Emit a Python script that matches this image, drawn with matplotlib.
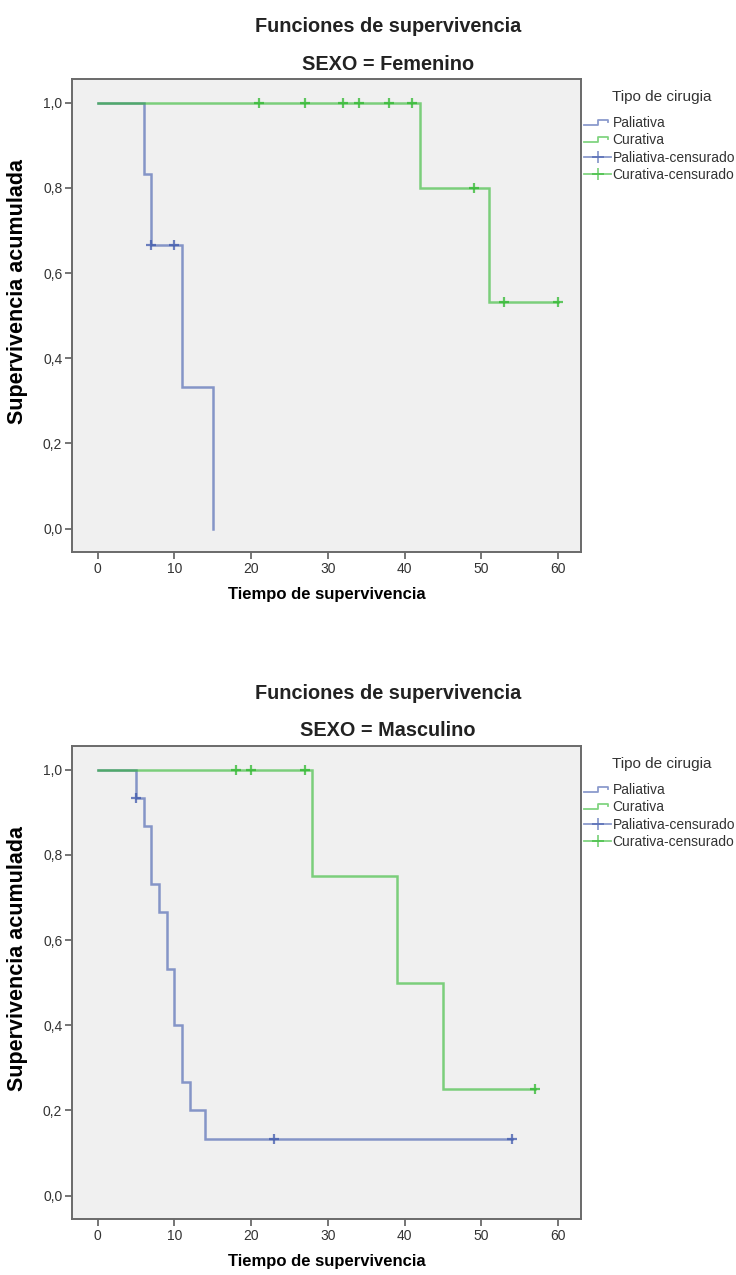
import matplotlib
matplotlib.use("Agg")
import matplotlib.pyplot as plt
from matplotlib.lines import Line2D
from matplotlib.legend_handler import HandlerBase
from matplotlib.ticker import FuncFormatter

plt.rcParams['font.family'] = ['Liberation Sans', 'DejaVu Sans']

# ---------------- data ----------------
sexes = ["Femenino", "Masculino"]
groups = ["Paliativa", "Curativa"]

# Femenino
fem_pal_t = [0, 6, 7, 11, 15]
fem_pal_s = [1.0, 0.833, 0.667, 0.333, 0.0]
fem_pal_cens_t = [7, 10]
fem_pal_cens_s = [0.667, 0.667]

fem_cur_t = [0, 42, 51, 60]
fem_cur_s = [1.0, 0.8, 0.533, 0.533]
fem_cur_cens_t = [21, 27, 32, 34, 38, 41, 49, 53, 60]
fem_cur_cens_s = [1.0, 1.0, 1.0, 1.0, 1.0, 1.0, 0.8, 0.533, 0.533]

# Masculino
mas_pal_t = [0, 5, 6, 7, 8, 9, 10, 11, 12, 14, 54]
mas_pal_s = [1.0, 0.933, 0.867, 0.733, 0.667, 0.533, 0.4, 0.267, 0.2, 0.133, 0.133]
mas_pal_cens_t = [5, 23, 54]
mas_pal_cens_s = [0.933, 0.133, 0.133]

mas_cur_t = [0, 28, 39, 45, 57]
mas_cur_s = [1.0, 0.75, 0.5, 0.25, 0.25]
mas_cur_cens_t = [18, 20, 27, 57]
mas_cur_cens_s = [1.0, 1.0, 1.0, 0.25]

x_ticks = [0, 10, 20, 30, 40, 50, 60]
y_ticks = [0.0, 0.2, 0.4, 0.6, 0.8, 1.0]

legend_title = "Tipo de cirugia"
legend_labels = ["Paliativa", "Curativa", "Paliativa-censurado", "Curativa-censurado"]

# ---------------- style ----------------
BLUE = '#3E58AC'
GREEN = '#2EB82E'
ALPHA = 0.6
SPINE = '#6a6a6a'
BG = '#f0f0f0'

W, H = 736, 1275
fig = plt.figure(figsize=(W / 100, H / 100), dpi=100)


class StepProxy(Line2D):
    pass


class StepHandler(HandlerBase):
    def create_artists(self, legend, orig_handle, xdescent, ydescent,
                       width, height, fontsize, trans):
        x0 = -xdescent
        y0 = -ydescent
        xs = [x0, x0 + width * 0.5, x0 + width * 0.5, x0 + width * 0.9, x0 + width * 0.9]
        ys = [y0 + height * 0.25, y0 + height * 0.25, y0 + height * 0.75,
              y0 + height * 0.75, y0 + height * 0.55]
        ln = Line2D(xs, ys, color=orig_handle.get_color(), lw=1.3,
                    alpha=orig_handle.get_alpha())
        ln.set_transform(trans)
        return [ln]


def px_axes(left, top, right, bottom):
    return fig.add_axes([left / W, 1 - bottom / H, (right - left) / W, (bottom - top) / H])


def comma(v, pos):
    return f"{v:.1f}".replace('.', ',')


panels = [
    dict(sex=sexes[0], top=79, bottom=552,
         data=[(fem_pal_t, fem_pal_s, fem_pal_cens_t, fem_pal_cens_s, BLUE),
               (fem_cur_t, fem_cur_s, fem_cur_cens_t, fem_cur_cens_s, GREEN)]),
    dict(sex=sexes[1], top=746, bottom=1219,
         data=[(mas_pal_t, mas_pal_s, mas_pal_cens_t, mas_pal_cens_s, BLUE),
               (mas_cur_t, mas_cur_s, mas_cur_cens_t, mas_cur_cens_s, GREEN)]),
]

for p in panels:
    ax = px_axes(72, p['top'], 581, p['bottom'])
    ax.set_facecolor(BG)
    for t, s, ct, cs, col in p['data']:
        ax.step(t, s, where='post', color=col, lw=1.8, alpha=ALPHA, solid_joinstyle='miter')
        ax.plot(ct, cs, linestyle='none', marker='+', markersize=7, mew=1.6,
                color=col, alpha=0.75)
    ax.set_xlim(-3.35, 63.0)
    ax.set_ylim(-0.055, 1.056)
    ax.set_xticks(x_ticks)
    ax.set_yticks(y_ticks)
    ax.yaxis.set_major_formatter(FuncFormatter(comma))
    for sp in ax.spines.values():
        sp.set_color(SPINE)
        sp.set_linewidth(1.4)
    ax.tick_params(direction='out', length=5, width=1.3, color=SPINE,
                   labelsize=10, labelcolor='#333333', pad=2)
    ax.set_xlabel("Tiempo de supervivencia", fontsize=12, fontweight='bold', labelpad=8)
    ax.set_ylabel("Supervivencia acumulada", fontsize=15.5, fontweight='bold')
    ax.yaxis.set_label_coords(-44 / 509, 0.55)

    fig.text(388 / W, 1 - (p['top'] - 53) / H, "Funciones de supervivencia",
             ha='center', va='center', fontsize=14.3, fontweight='bold', color='#222222')
    fig.text(388 / W, 1 - (p['top'] - 15) / H, f"SEXO = {p['sex']}",
             ha='center', va='center', fontsize=14.3, fontweight='bold', color='#222222')

    fig.text(662 / W, 1 - (p['top'] + 18) / H, legend_title,
             ha='center', va='center', fontsize=11, color='#333333')

    handles = [StepProxy([], [], color=BLUE, alpha=ALPHA),
               StepProxy([], [], color=GREEN, alpha=ALPHA),
               Line2D([], [], color=BLUE, alpha=ALPHA, lw=1.3, marker='+', markersize=9, mew=1.3),
               Line2D([], [], color=GREEN, alpha=ALPHA, lw=1.3, marker='+', markersize=9, mew=1.3)]
    leg = ax.legend(handles, legend_labels, loc='upper left',
                    bbox_to_anchor=(584 / W, 1 - (p['top'] + 37) / H),
                    bbox_transform=fig.transFigure, frameon=False,
                    fontsize=10, handlelength=1.95, handletextpad=0.1,
                    labelspacing=0.24, borderpad=0, borderaxespad=0, numpoints=1,
                    handler_map={StepProxy: StepHandler()})
    for txt in leg.get_texts():
        txt.set_color('#333333')

fig.savefig("out.png", dpi=100, facecolor='white')
